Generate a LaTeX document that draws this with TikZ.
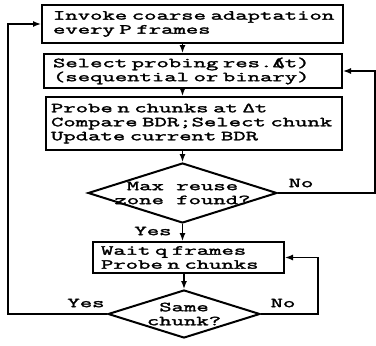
\documentclass[tikz,border=0pt]{standalone}
\usepackage{fontspec}
\newfontfamily\flowfont{Latin Modern Mono}[FakeStretch=1.74, FakeBold=2.2]
\usetikzlibrary{shapes.geometric,arrows.meta}
\tikzset{
  >={Latex[length=8pt,width=6pt]},
  procbox/.style={rectangle, draw=black, line width=2pt, anchor=west, align=left,
                  inner ysep=0pt, font=\flowfont\fontsize{13.8}{14}\selectfont},
  decision/.style={diamond, draw=black, line width=2pt, inner sep=0pt},
  decisiontext/.style={align=center, inner sep=0pt, font=\flowfont\fontsize{13.8}{14}\selectfont},
  branch/.style={inner sep=0pt, font=\flowfont\fontsize{13.8}{14}\selectfont},
  flow/.style={draw, line width=1.4pt, ->}
}
\begin{document}
\begin{tikzpicture}[x=1pt,y=-1pt]
    \useasboundingbox (0,0) rectangle (376,346);
    % Process boxes
    \node[procbox, inner xsep=11pt, text width=279pt, minimum height=38pt] (invoke) at (41,24)
         {\mbox{Invoke coarse adaptation}\\\mbox{every P frames}};
    \node[procbox, inner xsep=9pt, text width=280pt, minimum height=34pt] (select) at (43,71)
         {\mbox{Select probing res.\rlap{(}Δt)}\\\mbox{(sequential or binary)}};
    \node[procbox, inner xsep=5pt, text width=286pt, minimum height=53pt] (probe) at (45,123.5)
         {\mbox{Probe n chunks at Δt}\\\mbox{Compare BDR;Select chunk}\\\mbox{Update current BDR}};
    % Decisions
    \node[decision, minimum width=189pt, minimum height=60pt] (maxzone) at (182.5,193) {};
    \node[decisiontext] (maxzonetxt) at (maxzone.center) {Max reuse\\zone found?};
    \node[procbox, inner xsep=8pt, text width=175pt, minimum height=31pt] (waitq) at (92,257.5)
         {\mbox{Wait q frames}\\\mbox{Probe n chunks}};
    \node[decision, minimum width=152pt, minimum height=48pt] (same) at (184,314) {};
    \node[decisiontext] (sametxt) at (same.center) {Same\\chunk?};
    % Rails for the loops
    \coordinate (leftrail) at (8,0);
    \coordinate (rightrail) at (375,0);
    \coordinate (samerail) at (318,0);
    % Connectors
    \draw[flow] (invoke.south -| maxzone.north) -- (select.north -| maxzone.north);
    \draw[flow] (select.south -| maxzone.north) -- (probe.north -| maxzone.north);
    \draw[flow] (probe.south -| maxzone.north) -- (maxzone.north);
    \draw[flow] (maxzone.south) -- (waitq.north -| maxzone.south);
    \draw[flow] (waitq.south -| same.north) -- (same.north);
    \draw[flow] (maxzone.east) -- (maxzone.east -| rightrail) |- (select.east);
    \draw[flow] (same.west) -- (same.west -| leftrail) |- (invoke.west);
    \draw[flow] (same.east) -- (same.east -| samerail) |- (waitq.east);
    % Branch labels
    \node[branch] (nozone) at (301,183) {No};
    \node[branch] (yeszone) at (153,231) {Yes};
    \node[branch] (yessame) at (86,303) {Yes};
    \node[branch] (nosame) at (283,303) {No};
\end{tikzpicture}
\end{document}
